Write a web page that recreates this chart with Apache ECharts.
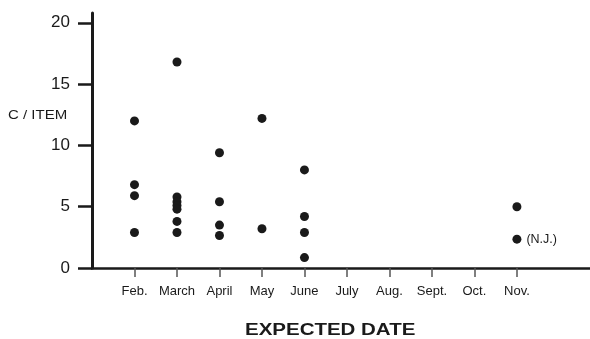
<!DOCTYPE html>
<html>
<head>
<meta charset="utf-8">
<script src="https://cdn.jsdelivr.net/npm/echarts@6/dist/echarts.min.js"></script>
<style>html,body{margin:0;padding:0;background:#fff}#c{width:590px;height:339px}</style>
</head>
<body>
<div id="c"></div>
<script>
var months = ['Feb.', 'March', 'April', 'May', 'June', 'July', 'Aug.', 'Sept.', 'Oct.', 'Nov.'];
var febValues = [12.0, 6.8, 5.9, 2.9];
var marchValues = [16.8, 5.8, 5.4, 5.1, 4.8, 3.8, 2.9];
var aprilValues = [9.4, 5.4, 3.5, 2.65];
var mayValues = [12.2, 3.2];
var juneValues = [8.0, 4.2, 2.9, 0.85];
var novValues = [5.0];
var novNJValues = [2.35];
var yTicks = [0, 5, 10, 15, 20];

var byMonth = {'Feb.': febValues, 'March': marchValues, 'April': aprilValues, 'May': mayValues, 'June': juneValues, 'Nov.': novValues};
var pts = [];
months.forEach(function (m, i) {
  (byMonth[m] || []).forEach(function (v) { pts.push([i + 1, v]); });
});
var njPts = novNJValues.map(function (v) { return [months.indexOf('Nov.') + 1, v]; });
var xIdx = months.map(function (m, i) { return i + 1; });

var chart = echarts.init(document.getElementById('c'));
var ink = '#1a1a1a';
var ff = 'Liberation Sans, Arial, sans-serif';
chart.setOption({
  animation: false,
  grid: {left: 92, right: 0, top: 13, bottom: 71},
  xAxis: {
    type: 'value', min: 0, max: 11.72,
    splitLine: {show: false},
    axisLine: {lineStyle: {color: ink, width: 2.5}},
    axisTick: {customValues: xIdx, length: 9, lineStyle: {color: '#555', width: 1.5}},
    axisLabel: {customValues: xIdx, margin: 17, color: ink, fontSize: 13, fontFamily: ff,
      formatter: function (v) { return months[Math.round(v) - 1] || ''; }}
  },
  yAxis: {
    type: 'value', min: 0, max: 20.8,
    splitLine: {show: false},
    axisLine: {show: true, lineStyle: {color: ink, width: 3}},
    axisTick: {show: true, customValues: yTicks, length: 14, lineStyle: {color: ink, width: 2.5}},
    axisLabel: {customValues: yTicks, margin: 22, color: ink, fontSize: 17, fontFamily: ff}
  },
  graphic: [
    {type: 'text', x: 8, y: 109, scaleX: 1.2, style: {text: 'C / ITEM', fill: ink, fontSize: 12.5, fontFamily: ff}},
    {type: 'text', x: 245, y: 323, scaleX: 1.28, style: {text: 'EXPECTED DATE', fill: ink, fontSize: 16, fontWeight: 'bold', fontFamily: ff}}
  ],
  series: [
    {type: 'scatter', data: pts, symbolSize: 9, itemStyle: {color: ink, opacity: 1}},
    {type: 'scatter', data: njPts, symbolSize: 9, itemStyle: {color: ink, opacity: 1},
      label: {show: true, position: 'right', distance: 5, formatter: '(N.J.)', color: ink, fontSize: 12.5, fontFamily: ff}}
  ]
});
</script>
</body>
</html>
